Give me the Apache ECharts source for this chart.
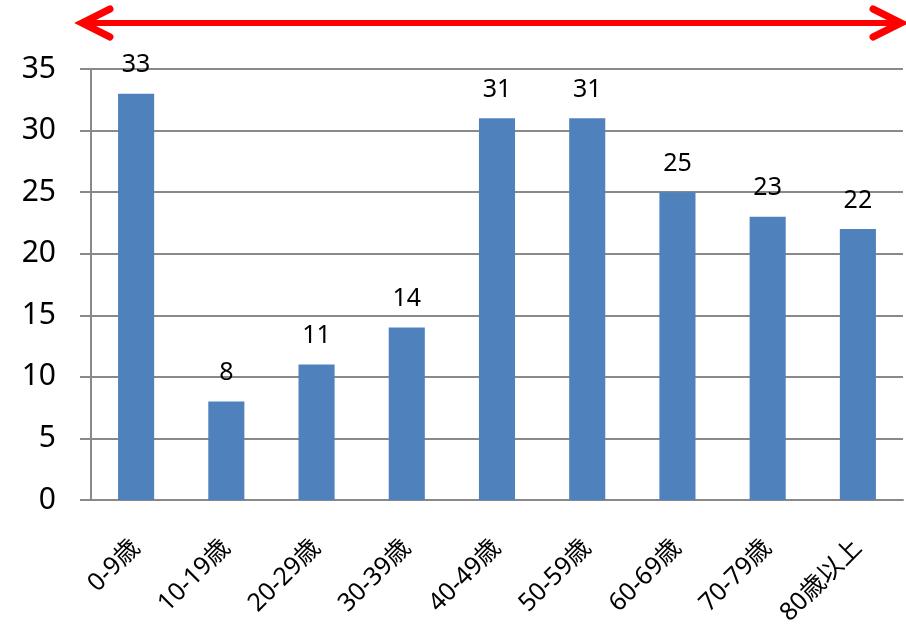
<!DOCTYPE html>
<html>
<head>
<meta charset="utf-8">
<script src="https://cdn.jsdelivr.net/npm/echarts@6/dist/echarts.min.js"></script>
<style>
  html, body { margin: 0; padding: 0; background: #fff; }
  #chart { width: 906px; height: 629px; }
</style>
</head>
<body>
<div id="chart"></div>
<script>
// 年代別の人数
const categories = ['0-9歳', '10-19歳', '20-29歳', '30-39歳', '40-49歳', '50-59歳', '60-69歳', '70-79歳', '80歳以上']
const counts = [33, 8, 11, 14, 31, 31, 25, 23, 22]
const yTicks = { min: 0, max: 35, interval: 5 }

const chart = echarts.init(document.getElementById('chart'))
const font = '"Noto Sans", "Noto Sans CJK JP", sans-serif'
const gray = '#898989'
const red = '#ff0000'

chart.setOption({
  animation: false,
  textStyle: { fontFamily: font },
  grid: { left: 91, right: 3, top: 69, bottom: 129, containLabel: false },
  xAxis: {
    type: 'category',
    data: categories,
    axisLine: { lineStyle: { color: gray, width: 2 } },
    axisTick: { length: 9, lineStyle: { color: gray, width: 2 } },
    axisLabel: {
      rotate: 45,
      margin: 44,
      fontSize: 25,
      color: '#000',
      fontFamily: font
    }
  },
  yAxis: {
    type: 'value',
    min: yTicks.min,
    max: yTicks.max,
    interval: yTicks.interval,
    axisLine: { show: true, lineStyle: { color: gray, width: 2 } },
    axisTick: { show: true, length: 11, lineStyle: { color: gray, width: 2 } },
    splitLine: { lineStyle: { color: gray, width: 2 } },
    axisLabel: {
      fontSize: 30,
      color: '#000',
      margin: 35,
      fontFamily: font
    }
  },
  series: [
    {
      type: 'bar',
      data: counts,
      barWidth: '40%',
      itemStyle: { color: '#4f81bd' },
      label: {
        show: true,
        position: 'top',
        distance: 16,
        fontSize: 25,
        color: '#000',
        fontFamily: font
      }
    }
  ],
  graphic: [
    {
      type: 'line',
      shape: { x1: 84, y1: 23, x2: 899, y2: 23 },
      style: { stroke: red, lineWidth: 6 }
    },
    {
      type: 'polyline',
      shape: { points: [[110, 9], [82, 23], [110, 37]] },
      style: { stroke: red, lineWidth: 7, lineCap: 'round', lineJoin: 'miter', fill: null }
    },
    {
      type: 'polyline',
      shape: { points: [[873, 9], [901, 23], [873, 37]] },
      style: { stroke: red, lineWidth: 7, lineCap: 'round', lineJoin: 'miter', fill: null }
    }
  ]
})
</script>
</body>
</html>
